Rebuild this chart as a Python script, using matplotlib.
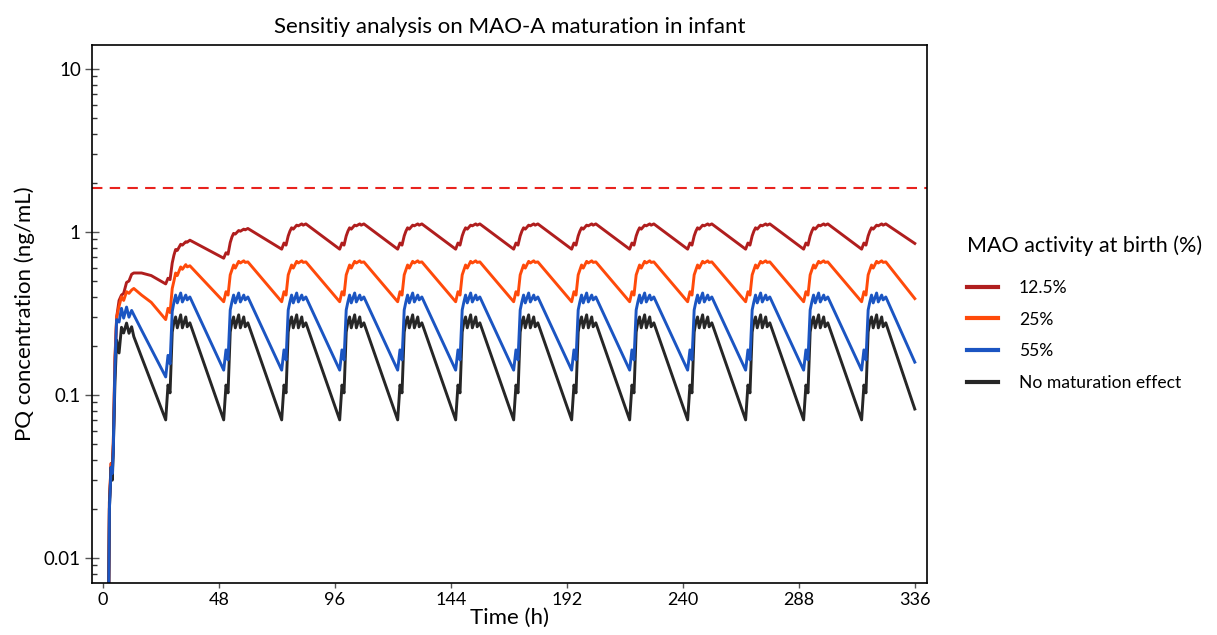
import matplotlib
matplotlib.use("Agg")
import matplotlib.pyplot as plt
import numpy as np

plt.rcParams['font.family'] = ['Lato', 'DejaVu Sans']

## first day after birth, dosing from t = 2 h
t_day1 = [2.0, 2.7, 3.4, 3.9, 4.3, 5.0, 5.7, 6.7, 7.7, 8.6, 9.8, 10.8, 11.9, 12.8, 16.0, 20.0]
red_day1 = [0.001, 0.022, 0.038, 0.037, 0.05, 0.17, 0.30, 0.38, 0.41, 0.42, 0.49, 0.50, 0.55, 0.56, 0.56, 0.54]
orange_day1 = [0.001, 0.022, 0.038, 0.036, 0.05, 0.16, 0.30, 0.35, 0.40, 0.38, 0.43, 0.42, 0.44, 0.45, 0.41, 0.37]
blue_day1 = [0.001, 0.02, 0.036, 0.033, 0.045, 0.15, 0.29, 0.28, 0.34, 0.296, 0.346, 0.30, 0.33, 0.31, 0.25, 0.192]
black_day1 = [0.001, 0.02, 0.036, 0.030, 0.045, 0.12, 0.217, 0.181, 0.26, 0.24, 0.276, 0.239, 0.262, 0.228, 0.171, 0.12]

## daily cycles: start time of each 24 h cycle and hours after start
cycle_start = [26, 50, 74, 98, 122, 146, 170, 194, 218, 242, 266, 290, 314]
cycle_offset = [0, 0.95, 1.8, 2.7, 3.4, 4.1, 4.8, 6.2, 6.9, 8.3, 8.9, 10.0]

red_c2 = [0.48, 0.52, 0.51, 0.645, 0.72, 0.78, 0.77, 0.84, 0.83, 0.87, 0.865, 0.89]
red_c3 = [0.69, 0.745, 0.73, 0.86, 0.93, 0.98, 0.97, 1.02, 1.01, 1.04, 1.03, 1.05]
red_ss = [0.784, 0.855, 0.83, 0.945, 1.01, 1.06, 1.04, 1.10, 1.09, 1.12, 1.10, 1.12]
orange_c2 = [0.29, 0.34, 0.32, 0.45, 0.50, 0.56, 0.54, 0.61, 0.59, 0.63, 0.61, 0.62]
orange_ss = [0.373, 0.43, 0.41, 0.545, 0.585, 0.627, 0.60, 0.66, 0.645, 0.665, 0.65, 0.655]
blue_c2 = [0.129, 0.175, 0.155, 0.325, 0.37, 0.41, 0.367, 0.422, 0.372, 0.41, 0.383, 0.399]
blue_ss = [0.142, 0.189, 0.164, 0.332, 0.372, 0.41, 0.367, 0.422, 0.372, 0.41, 0.383, 0.399]
black_ss = [0.0703, 0.115, 0.103, 0.243, 0.28, 0.301, 0.258, 0.31, 0.258, 0.301, 0.262, 0.277]

red_cycles = [red_c2, red_c3] + [red_ss] * 11
orange_cycles = [orange_c2] + [orange_ss] * 12
blue_cycles = [blue_c2] + [blue_ss] * 12
black_cycles = [black_ss] * 13

t_end = 336
end_values = {'red': 0.85, 'orange': 0.39, 'blue': 0.159, 'black': 0.082}

threshold = 1.86

labels = ['12.5%', '25%', '55%', 'No maturation effect']
colors = ['#B01E1E', '#FF4A0A', '#1B55C2', '#262626']


def build_series(day1, cycles, end_value):
    t = list(t_day1)
    v = list(day1)
    for start, vals in zip(cycle_start, cycles):
        t += [start + dt for dt in cycle_offset]
        v += vals
    t.append(t_end)
    v.append(end_value)
    return t, v


series = [
    build_series(red_day1, red_cycles, end_values['red']),
    build_series(orange_day1, orange_cycles, end_values['orange']),
    build_series(blue_day1, blue_cycles, end_values['blue']),
    build_series(black_day1, black_cycles, end_values['black']),
]

fig = plt.figure(figsize=(12.17, 6.35), dpi=100)
ax = fig.add_axes([0.0756, 0.082, 0.686, 0.847])

## blue ends up on top, as in the original
zorders = [2, 2.1, 2.3, 2.2]
for (t, v), lab, col, z in zip(series, labels, colors, zorders):
    ax.plot(t, v, color=col, lw=2.1, label=lab, solid_joinstyle='round', zorder=z)

ax.axhline(threshold, color='#E8231E', lw=1.5, ls=(0, (5, 3.5)))

ax.set_yscale('log')
ax.set_ylim(0.00703, 14.0)
ax.set_xlim(-4.5, 341)
ax.set_xticks(np.arange(0, 337, 48))
ax.set_yticks([0.01, 0.1, 1, 10])
ax.set_yticklabels(['0.01', '0.1', '1', '10'])

for s in ax.spines.values():
    s.set_linewidth(1.2)
ax.tick_params(axis='y', which='major', direction='inout', length=10, width=1,
               color='#555555', labelsize=13.5, pad=3)
ax.tick_params(axis='y', which='minor', direction='in', length=3.5, width=1, color='#333333')
ax.tick_params(axis='x', which='major', direction='out', length=3.5, width=1,
               color='#555555', labelsize=13, pad=3)

ax.set_xlabel('Time (h)', fontsize=16, labelpad=0)
ax.set_ylabel('PQ concentration (ng/mL)', fontsize=16, labelpad=6)
ax.set_title('Sensitiy analysis on MAO-A maturation in infant', fontsize=16, pad=9)

handles, labs = ax.get_legend_handles_labels()
leg = fig.legend(handles, labs, loc='upper left', bbox_to_anchor=(0.7946, 0.629),
                 frameon=False, fontsize=12.6, title='MAO activity at birth (%)',
                 title_fontsize=15.5, handlelength=1.75, handletextpad=1.2,
                 labelspacing=0.9, borderaxespad=0, borderpad=0)
leg._legend_box.align = 'left'
leg._legend_box.sep = 17
for line in leg.get_lines():
    line.set_linewidth(3)

fig.savefig('out.png', dpi=100)
